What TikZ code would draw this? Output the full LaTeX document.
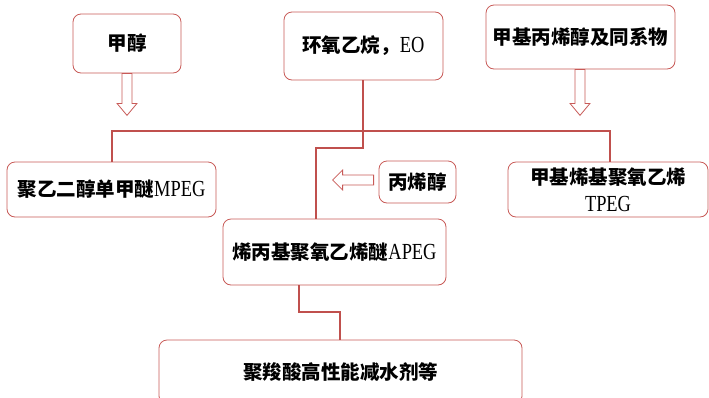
\documentclass[tikz,border=0pt]{standalone}
\usepackage{fontspec}
\setmainfont{Liberation Serif}[FakeStretch=0.8]
\newfontfamily\cjk{Noto Sans CJK SC}
\definecolor{linered}{HTML}{C0504D}
\definecolor{boxred}{HTML}{C85A57}
\begin{document}
\begin{tikzpicture}[x=1pt,y=-1pt,
  box/.style={draw=boxred, line width=0.8pt, rounded corners=8pt, fill=white,
    align=center, inner sep=0pt, font=\fontsize{23}{27}\selectfont},
  link/.style={draw=linered, line width=1.8pt},
  hollow/.style={draw=boxred, line width=0.8pt, fill=white, line join=miter}]
\useasboundingbox (0,0) rectangle (709,397);
\newcommand{\zh}[1]{{\cjk\bfseries\fontsize{19.5}{27}\selectfont #1}}
\node[box, minimum width=108pt, minimum height=59pt] (m) at (127,43.5) {\zh{甲醇}};
\node[box, minimum width=159pt, minimum height=68pt] (eo) at (363.5,46) {\zh{环氧乙烷，}EO};
\node[box, minimum width=189pt, minimum height=64pt] (ma) at (580.5,37) {\zh{甲基丙烯醇及同系物}};
\node[box, minimum width=209pt, minimum height=55pt] (mpeg) at (111.5,189.5) {\zh{聚乙二醇单甲醚}MPEG};
\node[box, minimum width=77pt, minimum height=42pt] (al) at (417.5,182) {\zh{丙烯醇}};
\node[box, minimum width=200pt, minimum height=55pt] (tpeg) at (608,189.5) {\zh{甲基烯基聚氧乙烯}\\TPEG};
\node[box, minimum width=223pt, minimum height=66pt] (apeg) at (334.5,252) {\zh{烯丙基聚氧乙烯醚}APEG};
\node[box, minimum width=363pt, minimum height=64pt] (fin) at (340.5,372) {\zh{聚羧酸高性能减水剂等}};
% connectors
\coordinate (j1) at (112,131);
\coordinate (j2) at (610,131);
\draw[link] (mpeg.north -| j1) -- (j1) -- (j2) -- (tpeg.north -| j2);
\coordinate (e1) at (363,148);
\coordinate (e2) at (316,148);
\draw[link] (eo.south -| e1) -- (e1) -- (e2) -- (apeg.north -| e2);
\coordinate (f1) at (299,312);
\coordinate (f2) at (340,312);
\draw[link] (apeg.south -| f1) -- (f1) -- (f2) -- (fin.north -| f2);
% hollow arrows
\draw[hollow] (m.south) ++(-5,0) -- ++(0,30) -- ++(-5,0) -- ++(10,12) -- ++(10,-12) -- ++(-5,0) -- ++(0,-30) -- cycle;
\draw[hollow] (ma.south) ++(-5.5,0) -- ++(0,34) -- ++(-5,0) -- ++(10,12) -- ++(10,-12) -- ++(-5,0) -- ++(0,-34) -- cycle;
\draw[hollow] (al.west) ++(-5,-7) -- ++(-31,0) -- ++(0,-5) -- ++(-10,10) -- ++(10,10) -- ++(0,-5) -- ++(31,0) -- cycle;
\end{tikzpicture}
\end{document}
